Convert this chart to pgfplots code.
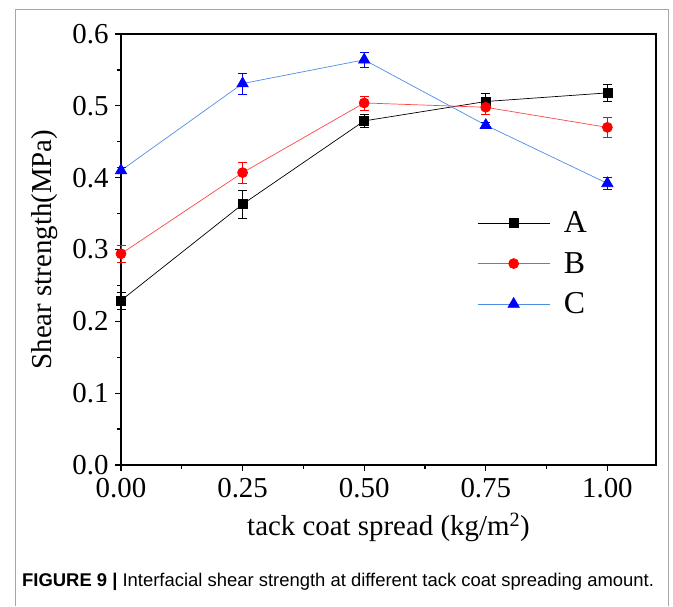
\documentclass[border=0pt]{standalone}
\usepackage{pgfplots}
\pgfplotsset{compat=1.18}
\usepackage{fontspec}
\setmainfont{Liberation Serif}
\newfontfamily\capfont{Liberation Sans}
\definecolor{lblue}{RGB}{80,140,230}
\definecolor{lred}{RGB}{255,70,70}
\begin{document}
\begin{tikzpicture}[x=1bp,y=1bp]
\path (0,0) rectangle (673,604);
\draw[gray!70,line width=0.8bp] (15,-2) -- (15,595) -- (668,595) -- (668,-2);
\begin{axis}[
  at={(121bp,139bp)}, anchor=south west,
  scale only axis, width=535bp, height=431bp,
  xmin=0, xmax=1.1, ymin=0, ymax=0.6,
  axis line style={line width=1.4bp},
  tick style={black, line width=1.2bp},
  tick align=outside,
  major tick length=6bp, minor tick length=4bp,
  xtick={0,0.25,0.5,0.75,1.0},
  xticklabels={0.00,0.25,0.50,0.75,1.00},
  minor xtick={0.125,0.375,0.625,0.875},
  ytick={0,0.1,0.2,0.3,0.4,0.5,0.6},
  yticklabels={0.0,0.1,0.2,0.3,0.4,0.5,0.6},
  minor ytick={0.05,0.15,0.25,0.35,0.45,0.55},
  xtick pos=bottom, ytick pos=left,
  /pgf/number format/assume math mode=true,
  tick label style={font=\fontsize{29}{32}\selectfont},
  xticklabel style={yshift=-4bp},
  yticklabel style={xshift=-3bp},
  label style={font=\fontsize{29}{32}\selectfont},
  xlabel={tack coat spread (kg/m\textsuperscript{2})},
  ylabel={Shear strength(MPa)},
  xlabel style={yshift=-8bp},
  ylabel style={yshift=8bp},
  legend style={draw=none, fill=none, at={(0.66,0.597)}, anchor=north west,
    font=\fontsize{32}{35}\selectfont, row sep=14bp,
    /tikz/every odd column/.append style={column sep=12bp}},
  legend cell align=left,
  legend image code/.code={\draw[mark repeat=2,mark phase=2] plot coordinates {(0bp,0bp) (36bp,0bp) (72bp,0bp)};},
  clip=false,
]
\addplot[black, line width=0.7bp, mark=square*, mark size=4.5bp, mark options={solid, fill=black},
  error bars/.cd, y dir=both, y explicit, error bar style={black, line width=0.7bp}, error mark options={rotate=90, mark size=4.5bp, black}]
  coordinates {(0,0.229) +- (0,0.012) (0.25,0.363) +- (0,0.019) (0.5,0.479) +- (0,0.009) (0.75,0.506) +- (0,0.011) (1.0,0.518) +- (0,0.012)};
\addlegendentry{A}
\addplot[lred, line width=0.7bp, mark=*, mark size=5bp, mark options={solid, fill=red, draw=red},
  error bars/.cd, y dir=both, y explicit, error bar style={red, line width=0.7bp}, error mark options={rotate=90, mark size=4.5bp, red}]
  coordinates {(0,0.294) +- (0,0.012) (0.25,0.407) +- (0,0.015) (0.5,0.504) +- (0,0.010) (0.75,0.498) +- (0,0.010) (1.0,0.470) +- (0,0.014)};
\addlegendentry{B}
\addplot[lblue, line width=0.7bp, mark=triangle*, mark size=6.5bp, mark options={solid, fill=blue, draw=blue},
  error bars/.cd, y dir=both, y explicit, error bar style={blue, line width=0.7bp}, error mark options={rotate=90, mark size=4.5bp, blue}]
  coordinates {(0,0.410) +- (0,0.004) (0.25,0.531) +- (0,0.015) (0.5,0.564) +- (0,0.010) (0.75,0.473) +- (0,0.004) (1.0,0.392) +- (0,0.008)};
\addlegendentry{C}
\end{axis}
\node[anchor=base west, inner sep=0] at (22,17) {\capfont\fontsize{18.5}{20}\selectfont\textbf{FIGURE 9 |} Interfacial shear strength at different tack coat spreading amount.};
\end{tikzpicture}
\end{document}
